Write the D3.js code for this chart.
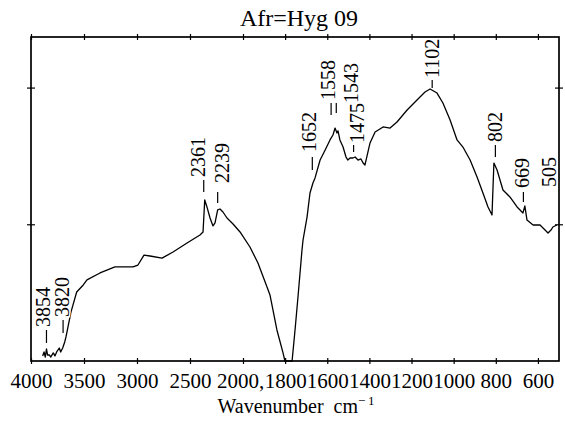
<!DOCTYPE html>
<html lang="en">
<head>
    <meta charset="UTF-8">
    <title>Afr=Hyg 09</title>
    <script src="https://cdn.jsdelivr.net/npm/d3@7/dist/d3.min.js"></script>
    <style>
        body { margin: 0; background: #fff; }
        .tick line { stroke: #000; stroke-width: 1.2; }
        .peak { font-size: 20px; paint-order: stroke; stroke: #fff; stroke-width: 3px; }
    </style>
</head>
<body>
    <svg id="chart" width="565" height="425"></svg>

    <script>
        // spectrum trace
        const wavenumbers = [3890, 3877, 3865, 3854, 3844, 3827, 3814, 3790, 3774, 3758, 3733, 3720, 3701, 3682, 3670,
            3623, 3569, 3507, 3472, 3349, 3208, 3113, 3038, 2991, 2934, 2877, 2764, 2660, 2528, 2406, 2377,
            2361, 2340, 2311, 2283, 2264, 2239, 2217, 2189, 2151, 2094, 2028,
            1967, 1929, 1886, 1872, 1839, 1810, 1801, 1767, 1753, 1739, 1720, 1715, 1696, 1682, 1668, 1658,
            1634, 1610, 1587, 1573, 1563, 1554, 1549, 1540, 1525, 1511, 1502, 1492, 1478, 1468, 1454, 1440,
            1430, 1421, 1397, 1373, 1335, 1302, 1269, 1221, 1174, 1136, 1112, 1079, 1051, 1017, 984, 956,
            922, 889, 861, 837, 818, 809, 794, 780, 766, 733, 699, 671, 662, 652, 623, 590, 571, 552, 538, 529, 510];
        const absorbance = [0.037, 0.066, 0.029, 0.088, 0.044, 0.044, 0.029, 0.059, 0.037, 0.066, 0.095, 0.066, 0.095, 0.139, 0.176,
            0.358, 0.505, 0.556, 0.593, 0.644, 0.688, 0.688, 0.688, 0.702, 0.775, 0.768, 0.753, 0.797, 0.863, 0.922, 0.944,
            1.178, 1.127, 1.046, 0.988, 1.010, 1.105, 1.112, 1.090, 1.046, 1.002, 0.944,
            0.834, 0.717, 0.541, 0.483, 0.227, 0.059, 0.0, 0.0, 0.227, 0.468, 0.812, 0.885, 1.053, 1.229, 1.302, 1.339,
            1.470, 1.544, 1.617, 1.653, 1.704, 1.668, 1.683, 1.617, 1.565, 1.492, 1.470, 1.485, 1.485, 1.492, 1.470, 1.478,
            1.448, 1.434, 1.595, 1.675, 1.712, 1.704, 1.748, 1.836, 1.909, 1.968, 1.990, 1.960, 1.887, 1.763, 1.617, 1.565,
            1.470, 1.346, 1.229, 1.127, 1.068, 1.448, 1.397, 1.324, 1.251, 1.200, 1.127, 1.083, 1.134, 1.031, 0.995, 0.995, 0.966, 0.936, 0.958, 0.980, 0.995];

        const xTicks = [4000, 3500, 3000, 2500, 2000, 1800, 1600, 1400, 1200, 1000, 800, 600];
        const xTickLabels = ["4000", "3500", "3000", "2500", "2000,", "1800", "1600", "1400", "1200", "1000", "800", "600"];
        const yTicks = [1, 2];

        // peak annotations: wavenumber, dash span and text start (in absorbance units)
        const peakWn = [3854, 3820, 2361, 2239, 1652, 1558, 1543, 1475, 1102, 802, 669, 505];
        const peakDash = [[0.132, 0.227], [0.205, 0.300], [1.236, 1.324], [1.156, 1.236], [1.397, 1.492], [1.800, 1.887],
            [1.814, 1.887], [1.529, 1.580], [1.997, 2.056], [1.492, 1.580], [1.163, 1.236], null];
        const peakTextBase = [0.249, 0.322, 1.346, 1.302, 1.529, 1.909, 1.887, 1.595, 2.070, 1.602, 1.266, 1.273];
        // pixel nudges for dashes / text (scan is not quite on scale)
        const dashDx = [0, 13, -1, 0, -4, -5, -3, 0, 0, 0, 0, 0];
        const textDx = [-3, 12, -7, 4, -7, -8, 12, 3, 0, 0, -1, -9];

        const serif = "'Liberation Serif', 'Times New Roman', Times, serif";
        const svg = d3.select("#chart");
        const plotL = 31, plotR = 559, plotT = 37, plotB = 361;

        // broken scale: 2x expansion below 2000 cm-1
        const x = d3.scaleLinear().domain([4000, 2000, 500]).range([plotL, 243, plotR]);
        const y = d3.scaleLinear().domain([0, 2.37]).range([plotB, plotT]);

        const data = wavenumbers.map((w, i) => ({ w, v: absorbance[i] }));

        // title
        svg.append("text")
            .attr("x", 299).attr("y", 26)
            .attr("text-anchor", "middle")
            .attr("font-family", serif)
            .attr("font-size", 24)
            .text("Afr=Hyg 09");

        // bottom ticks with labels
        const xb = svg.append("g").attr("transform", `translate(0,${plotB})`)
            .call(d3.axisBottom(x).tickValues(xTicks).tickSize(3).tickPadding(9).tickFormat((d, i) => xTickLabels[i]))
            .attr("font-family", serif)
            .attr("font-size", 21);
        xb.select(".domain").remove();
        xb.selectAll("text").filter(d => d === 2000).attr("dx", -3);

        // remaining crossing ticks
        [[`translate(0,${plotB})`, d3.axisTop(x)], [`translate(0,${plotT})`, d3.axisTop(x)], [`translate(0,${plotT})`, d3.axisBottom(x)]].forEach(([t, a]) => {
            svg.append("g").attr("transform", t)
                .call(a.tickValues(xTicks).tickSize(3).tickFormat(""))
                .select(".domain").remove();
        });
        [[`translate(${plotL},0)`, d3.axisLeft(y)], [`translate(${plotL},0)`, d3.axisRight(y)],
         [`translate(${plotR},0)`, d3.axisLeft(y)], [`translate(${plotR},0)`, d3.axisRight(y)]].forEach(([t, a]) => {
            svg.append("g").attr("transform", t)
                .call(a.tickValues(yTicks).tickSize(4).tickFormat(""))
                .select(".domain").remove();
        });

        // spectrum
        svg.append("path")
            .datum(data)
            .attr("fill", "none")
            .attr("stroke", "#000")
            .attr("stroke-width", 1.3)
            .attr("stroke-linejoin", "round")
            .attr("d", d3.line().x(d => x(d.w)).y(d => y(d.v)));

        // frame
        svg.append("rect")
            .attr("x", plotL).attr("y", plotT)
            .attr("width", plotR - plotL).attr("height", plotB - plotT)
            .attr("fill", "none")
            .attr("stroke", "#000")
            .attr("stroke-width", 1.7);

        // peak labels
        peakWn.forEach((w, i) => {
            const px = x(w);
            if (peakDash[i]) {
                svg.append("line")
                    .attr("x1", px + dashDx[i]).attr("x2", px + dashDx[i])
                    .attr("y1", y(peakDash[i][0])).attr("y2", y(peakDash[i][1]))
                    .attr("stroke", "#000").attr("stroke-width", 1.2);
            }
            const tx = px + textDx[i], ty = y(peakTextBase[i]);
            svg.append("text")
                .attr("class", "peak")
                .attr("font-family", serif)
                .attr("transform", `translate(${tx},${ty}) rotate(-90)`)
                .attr("dy", "0.35em")
                .text(w);
        });

        // axis title
        const xt = svg.append("text")
            .attr("x", 296).attr("y", 413)
            .attr("text-anchor", "middle")
            .attr("font-family", serif)
            .attr("font-size", 20);
        xt.append("tspan").text("Wavenumber\u00a0\u00a0cm");
        xt.append("tspan").attr("dy", -8).attr("font-size", 13).text("\u2212\u20091");
    </script>
</body>
</html>
